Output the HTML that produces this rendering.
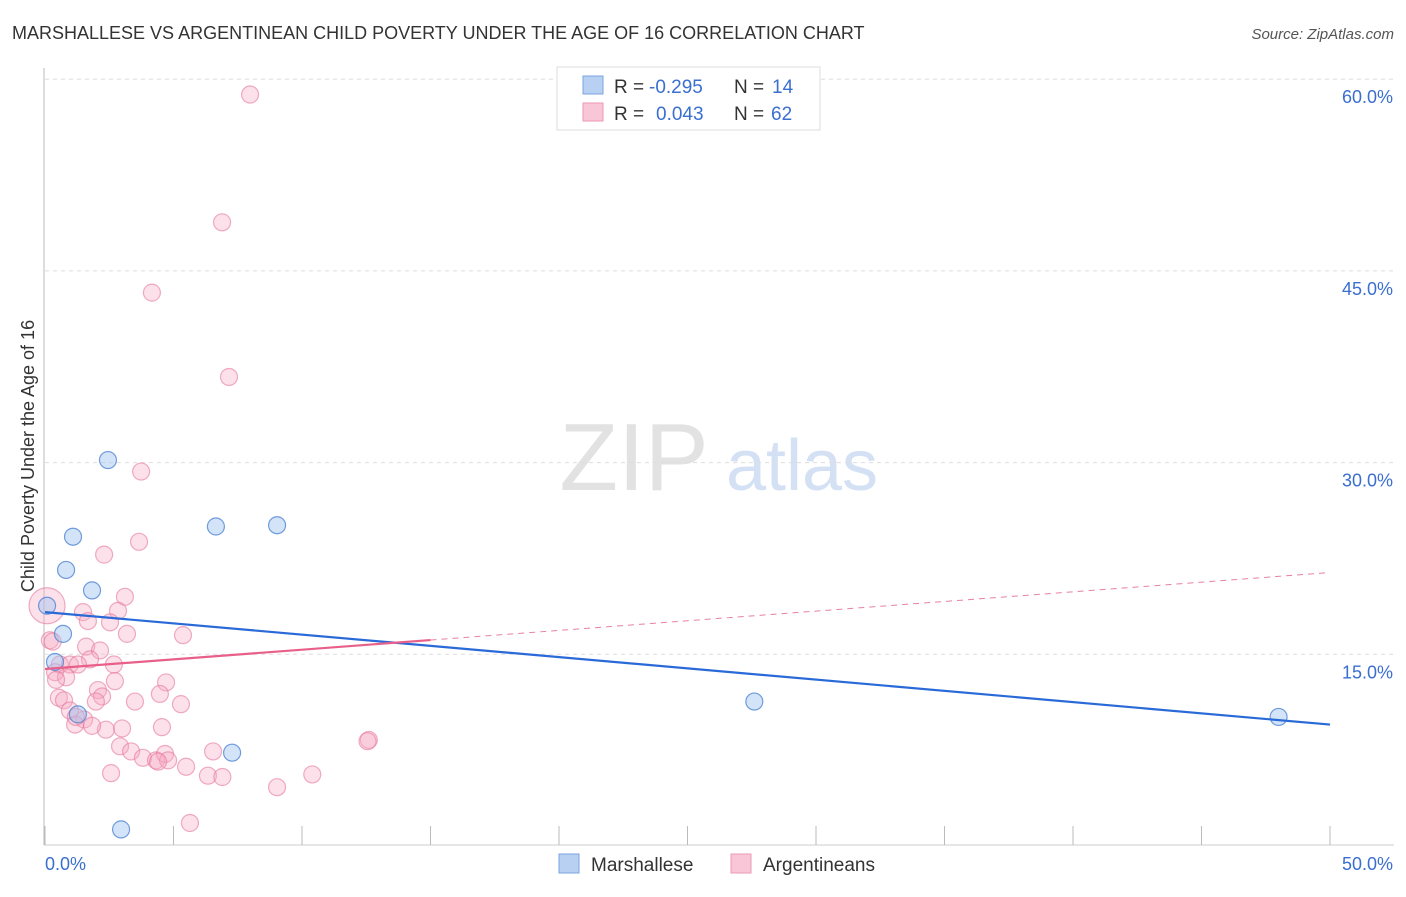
<!DOCTYPE html>
<html><head><meta charset="utf-8"><style>
body{margin:0;background:#fff;font-family:"Liberation Sans",sans-serif;}
svg text{font-family:"Liberation Sans",sans-serif;}
</style></head><body>
<svg id="c" width="1406" height="892" xmlns="http://www.w3.org/2000/svg">
<text x="12" y="39" font-size="18" fill="#333">MARSHALLESE VS ARGENTINEAN CHILD POVERTY UNDER THE AGE OF 16 CORRELATION CHART</text>
<text x="1394" y="39" font-size="15" fill="#555" text-anchor="end" font-style="italic">Source: ZipAtlas.com</text>
<text x="34" y="456" font-size="18" fill="#333" text-anchor="middle" transform="rotate(-90 34 456)">Child Poverty Under the Age of 16</text>
<g><text x="634" y="490" font-size="96" fill="#e2e2e2" font-family="Liberation Serif" text-anchor="middle">ZIP</text><text x="802" y="490" font-size="72" fill="#d4e1f4" text-anchor="middle">atlas</text></g>
<g id="grid"></g><g id="marks"></g>
<g>
<rect x="557" y="67" width="263" height="63" fill="#fff" stroke="#ddd"/>
<rect x="583" y="76" width="20" height="18" fill="#b8d0f2" stroke="#7aa4e0"/>
<rect x="583" y="103" width="20" height="18" fill="#f8c6d6" stroke="#ee9ab4"/>
<text x="614" y="93" font-size="19" fill="#333">R =</text>
<text x="649" y="93" font-size="19" fill="#3a6fd0">-0.295</text>
<text x="734" y="93" font-size="19" fill="#333">N =</text>
<text x="772" y="93" font-size="19" fill="#3a6fd0">14</text>
<text x="614" y="120" font-size="19" fill="#333">R =</text>
<text x="656" y="120" font-size="19" fill="#3a6fd0">0.043</text>
<text x="734" y="120" font-size="19" fill="#333">N =</text>
<text x="771" y="120" font-size="19" fill="#3a6fd0">62</text>
</g>
<g>
<rect x="559" y="854" width="20" height="19" fill="#b8d0f2" stroke="#7aa4e0"/>
<text x="591" y="871" font-size="19" fill="#333">Marshallese</text>
<rect x="731" y="854" width="20" height="19" fill="#f8c6d6" stroke="#ee9ab4"/>
<text x="763" y="871" font-size="19" fill="#333">Argentineans</text>
</g>
</svg>
<script>
const yTicks=[15,30,45,60];
const yTickLabels=["15.0%","30.0%","45.0%","60.0%"];
const xTickLabels=["0.0%","50.0%"];
const blueX=[0.08,0.39,0.7,0.82,1.09,1.83,2.45,1.28,2.96,6.65,7.28,9.03,27.6,48.0];
const blueY=[18.8,14.4,16.6,21.6,24.2,20.0,30.2,10.3,1.3,25.0,7.3,25.1,11.3,10.1];
const pinkX=[7.98,6.89,4.16,7.16,3.74,3.66,2.3,3.11,2.84,1.48,0.08,2.53,1.67,3.19,5.37,0.19,1.6,2.14,2.68,1.75,0.58,0.97,1.28,0.39,0.82,2.72,4.71,2.06,2.22,4.47,0.54,0.74,3.5,5.29,1.98,0.97,1.52,1.17,4.55,2.37,1.83,2.92,3.35,3.81,4.32,4.67,4.79,6.54,5.49,2.57,6.34,12.6,10.4,9.03,5.64,0.43,12.55,4.4,1.2,0.3,6.9,3.0];
const pinkY=[58.8,48.8,43.3,36.7,29.3,23.8,22.8,19.5,18.4,18.3,18.8,17.5,17.6,16.6,16.5,16.1,15.6,15.3,14.2,14.6,14.2,14.2,14.2,13.6,13.2,12.9,12.8,12.2,11.7,11.9,11.6,11.4,11.3,11.1,11.3,10.6,9.9,9.5,9.3,9.1,9.4,7.8,7.4,6.9,6.7,7.2,6.7,7.4,6.2,5.7,5.5,8.3,5.6,4.6,1.8,13.0,8.2,6.6,10.1,16.0,5.4,9.2];
const blueTrend=[18.3,9.5];
const pinkTrend=[13.85,21.4];
const X=v=>45+v*25.7, Y=v=>846-v*12.78;
const NS="http://www.w3.org/2000/svg";
const g=document.getElementById('grid'), m=document.getElementById('marks');
function mk(tag,at,p){const e=document.createElementNS(NS,tag);for(const k in at)e.setAttribute(k,at[k]);p.appendChild(e);return e;}
const ax=mk('line',{x1:44,y1:68,x2:44,y2:845,stroke:'#bbb'},g);


const bx=mk('line',{x1:44,y1:845,x2:1394,y2:845,stroke:'#ccc'},g);


yTicks.forEach((t,i)=>{
 const l=mk('line',{x1:45,x2:1394,y1:Y(t),y2:Y(t),stroke:'#ddd','stroke-dasharray':'4 4'},g);
 
 
 const tx=mk('text',{x:1393,y:Y(t)+24,'font-size':18,fill:'#3a6fd0','text-anchor':'end'},g);tx.textContent=yTickLabels[i];
 
 
});
for(let i=0;i<=10;i++){const l=mk('line',{x1:X(i*5),x2:X(i*5),y1:826,y2:845,stroke:'#bbb'},g);
 
 }
[[0,45,'start'],[50,1393,'end']].forEach((a,i)=>{const t=mk('text',{x:a[1],y:870,'font-size':18,fill:'#3a6fd0','text-anchor':a[2]},g);t.textContent=xTickLabels[i];
 
 });
pinkX.forEach((x,i)=>{const c=mk('circle',{cx:X(x),cy:Y(pinkY[i]),r:i==10?18:8.5,fill:'rgba(246,170,195,0.35)',stroke:'rgba(230,120,155,0.6)','stroke-width':1.2},m);
 
 });
blueX.forEach((x,i)=>{const c=mk('circle',{cx:X(x),cy:Y(blueY[i]),r:8.5,fill:'rgba(160,195,240,0.45)',stroke:'rgba(70,125,210,0.75)','stroke-width':1.2},m);
 
 });
const bt=mk('line',{x1:X(0),y1:Y(blueTrend[0]),x2:X(50),y2:Y(blueTrend[1]),stroke:'#2a6ad8','stroke-width':2.2},m);


const pm=v=>pinkTrend[0]+(pinkTrend[1]-pinkTrend[0])*v/50;
const pt=mk('line',{x1:X(0),y1:Y(pm(0)),x2:X(15),y2:Y(pm(15)),stroke:'#e8608a','stroke-width':2.2},m);


const pd=mk('line',{x1:X(15),y1:Y(pm(15)),x2:X(50),y2:Y(pm(50)),stroke:'#e8809f','stroke-width':1,'stroke-dasharray':'6 5'},m);


</script>
</body></html>
